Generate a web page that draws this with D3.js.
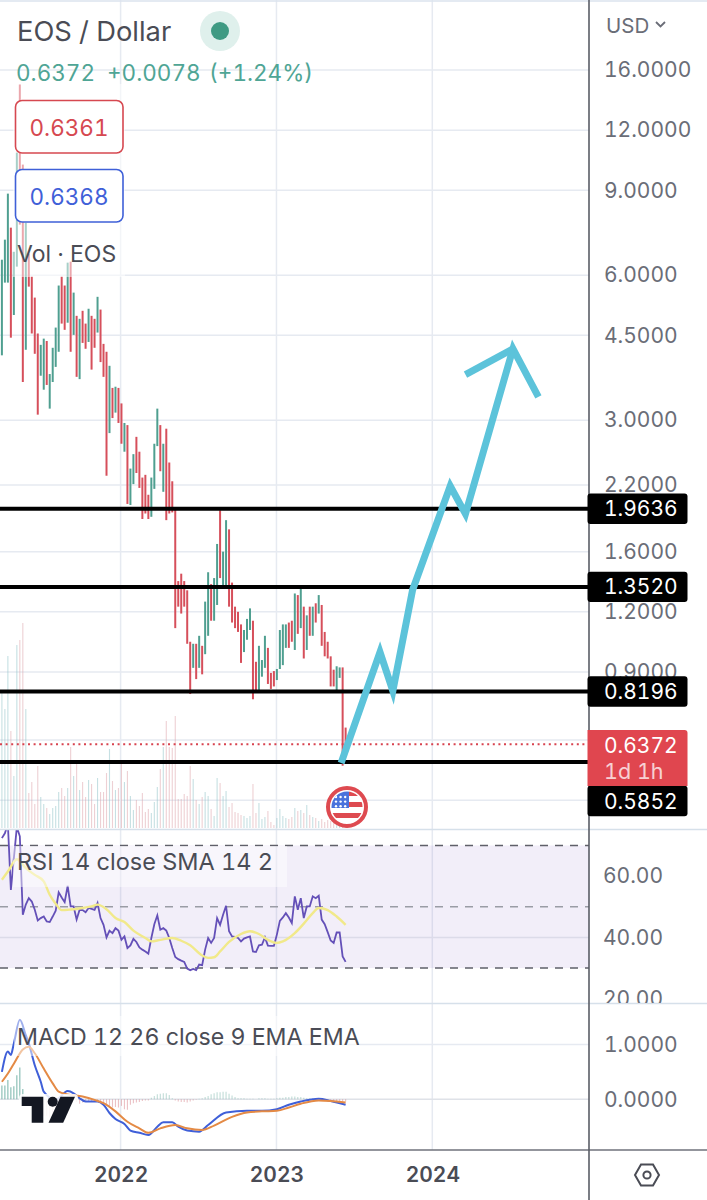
<!DOCTYPE html>
<html><head><meta charset="utf-8">
<script src="https://cdn.jsdelivr.net/npm/d3@7"></script>
<style>html,body{margin:0;padding:0;background:#fff}svg{display:block}text{font-family:Inter,"Noto Sans",sans-serif;font-variant-numeric:tabular-nums}</style>
</head><body><div id="chart"></div>
<script>
// ---- weekly EOS/USD candles ----
const candleHigh=[6.46,7.11,8.86,7.53,6.71,10.78,14.93,10.18,7.71,6.65,
5.96,5.39,4.54,4.30,4.43,4.38,3.74,4.24,4.67,5.71,
5.96,5.71,6.37,6.40,5.52,4.94,4.87,5.06,4.76,5.11,
4.94,4.87,5.41,5.09,4.32,4.16,3.89,3.50,3.52,3.50,
3.25,2.96,2.93,2.38,2.55,2.77,2.58,2.28,2.31,2.10,
2.28,2.68,3.17,2.93,2.68,2.88,2.45,2.24,1.97,1.39,
1.44,1.39,1.33,1.04,1.03,1.03,1.07,1.02,1.26,1.45,
1.37,1.41,1.66,1.95,1.60,1.86,1.78,1.38,1.23,1.20,
1.13,1.10,1.16,1.22,1.15,.945,1.02,.953,1.07,1.01,
.896,.904,.913,1.10,1.13,1.13,1.14,1.15,1.31,1.30,
1.34,1.23,1.18,1.23,1.23,1.25,1.30,1.24,1.09,1.04,
.97,.91,.925,.92,.92,.69];
const candleLow=[4.09,5.79,5.79,4.45,4.96,6.25,7.64,3.60,4.20,5.68,
4.54,4.12,3.08,3.71,3.47,3.55,3.17,3.60,3.87,4.16,
4.76,4.62,4.78,4.16,4.51,3.69,3.65,4.34,4.22,4.36,
3.82,4.24,4.56,3.96,3.69,2.30,2.82,3.03,3.11,2.96,
2.68,2.58,2.01,2.00,2.21,2.33,2.17,1.87,1.92,1.87,
1.89,2.16,2.65,2.35,2.13,1.86,1.92,1.93,1.11,1.23,
1.19,1.23,1.03,.81,.918,.87,.918,.89,.98,1.07,
1.15,1.15,1.24,1.41,1.35,1.35,1.23,1.14,1.11,1.09,
.94,.99,1.05,1.10,.79,.82,.826,.88,.918,.85,
.83,.84,.866,.913,.93,1.01,1.01,1.04,1.00,1.08,
1.11,.96,1.00,1.07,1.07,1.14,1.19,1.02,.97,.96,
.84,.84,.82,.875,.575,.60];
const candleDir=[1,1,1,-1,1,1,-1,-1,1,-1,
-1,-1,-1,1,1,-1,1,1,1,1,
-1,-1,1,-1,1,-1,1,-1,-1,1,
-1,-1,1,-1,-1,-1,1,-1,1,-1,
-1,1,-1,1,1,-1,-1,-1,-1,-1,
1,1,1,-1,1,-1,-1,-1,-1,-1,
-1,-1,-1,-1,1,-1,1,-1,1,1,
-1,1,1,-1,1,1,-1,-1,-1,-1,
-1,1,1,1,-1,-1,1,1,1,-1,
-1,-1,1,1,1,1,-1,-1,1,-1,
1,-1,1,-1,1,-1,1,-1,-1,-1,
-1,-1,1,1,-1,-1];
const volume=[135,119,172,97,52,183,188,205,119,35,
46,24,62,31,24,20,14,20,22,36,
40,32,40,81,52,64,38,46,31,48,
44,24,50,36,36,55,79,47,38,40,
64,46,57,32,18,28,22,35,16,19,
15,26,41,59,81,107,81,80,112,29,
29,34,32,62,49,28,24,31,36,32,
19,12,50,45,32,37,21,25,16,15,
13,12,10,12,44,15,25,9,11,17,
6,3,10,19,12,10,9,11,20,17,
18,15,23,13,11,10,7,9,6,8,
7,6,5,5,10,3];
const rsi=[72.4,74,77,55.5,65.9,76,73,47.4,50.7,52.8,
51.7,49,45.5,46.3,46.8,45.2,45,46.8,48.7,54.7,
53,51.5,56.8,50.1,50.1,45.8,49,48.9,48.2,49.6,
49.3,49,51.2,46.3,44.1,40,42.2,41.4,43,42.2,
39.2,40.3,36.5,37.4,39.5,38.5,36.7,36,35.4,34.7,
39.8,44.3,47.2,42.5,43,42.2,39.8,36.5,33.6,32.9,
32.4,32,29.8,29.3,29.7,29.3,31.1,30.9,36,39.8,
38.2,39.8,46.3,44.1,47.4,50.3,42,40.3,40.2,39.8,
38.7,39.6,40,40.3,35.4,35.2,37.4,37.6,40,37.3,
37.2,37.2,40.9,45.4,46.5,47.9,46.5,44.7,53.4,49,
52.8,46.3,50.1,50.1,53.4,52.8,53.6,45.8,44.3,41.7,
39,38.2,41.6,41.6,33.8,32];
const rsiMaWeek=[0,2,5,8,11,14,16,18,20,23,27,30,32,35,38,41,44,48,50,53,57,60,63,67,69,71,73,76,80,83,86,89,92,94,98,101,104,106,109,112,115];
const rsiMa=[58.8,61.5,65.5,62.6,60.4,58.3,53.9,51,48.9,49.1,49.6,50.1,50.7,49.2,46.3,45,42.2,39.8,38.7,39.2,39.8,38.9,37.4,34.1,33.3,33.5,35.4,38.5,41.1,42,41.1,39.2,38.2,38.7,41.4,44.5,47.9,49.6,48.9,46.8,44.1];
const macdWeek=[0,2,3,4,6,8,9,11,13,14,18,22,24,26,28,32,34,36,38,41,43,46,49,52,54,57,59,62,66,69,75,82,87,92,96,100,106,110,115];
const macdLine=[.50,.87,.81,1.02,1.45,1.17,1.02,.62,.32,.14,-.01,.15,.11,.02,-.04,-.04,-.10,-.25,-.36,-.45,-.57,-.61,-.65,-.50,-.42,-.42,-.50,-.57,-.59,-.47,-.24,-.21,-.21,-.18,-.10,-.04,.01,-.03,-.10];
const signalWeek=[0,2,4,7,9,11,14,17,19,22,27,31,34,38,42,46,49,53,58,62,67,71,77,82,87,92,96,100,106,110,115];
const signalLine=[.32,.47,.65,.91,.96,.84,.56,.29,.14,.09,.05,-.01,-.07,-.22,-.41,-.53,-.61,-.53,-.47,-.53,-.56,-.48,-.32,-.24,-.22,-.21,-.15,-.08,-.02,-.03,-.06];
const macdHist=[.25,.25,.35,.22,.24,.44,.58,.19,-.03,-.10,
-.15,-.18,-.22,-.26,-.3,-.3,-.33,-.3,-.25,-.15,
-.05,.02,.05,.03,.02,-.05,-.08,-.06,-.05,-.03,
-.03,-.03,-.03,-.05,-.07,-.1,-.13,-.15,-.14,-.15,
-.12,-.18,-.19,-.10,-.07,-.06,-.05,-.03,-.02,-.02,
.03,.06,.09,.10,.11,.11,.08,.02,-.02,-.04,
-.05,-.05,-.06,-.04,-.02,-.01,.01,.02,.04,.06,
.09,.11,.13,.13,.14,.14,.10,.07,.04,.02,
.02,.02,.01,.01,.01,0,.02,.02,.02,.01,
.01,.01,.02,.03,.03,.04,.04,.05,.05,.04,
.04,.03,.02,.02,.02,.02,.02,-.01,-.02,-.02,
-.03,-.03,-.03,-.03,-.04,-.04];
const priceTicks=[16,12,9,6,4.5,3,2.2,1.6,1.2,.9];
const priceGridOnly=[.65,.4875];
const levelValues=[1.9636,1.3520,.8196,.5852];
const lastPrice=0.6372;
const rsiTicks=[60,40,20];
const rsiBands=[70,50,30];
const macdTicks=[1,0];
const yearTicks=[2022,2023,2024];
// hand-drawn projection: week number on the candle count, price
const drawnWeek=[113.5,126.5,130.8,137.4,150,155.1,171,179.5];
const drawnPrice=[.5825,.99,.822,1.332,2.19,1.916,4.22,3.355];
const drawnHeadWeek=[155.1,171];
const drawnHeadPrice=[3.73,4.22];

const W=707,H=1200,AX=589,N=candleHigh.length;
const RED="#d64f5b",TEAL="#4f9f90",INK="#4a4c55",TICK="#6a6d77",GRID="#e6eaf1";
const weekDate=i=>new Date(Date.UTC(2023,5,12)+(i-(N-1))*7*864e5);
const x=d3.scaleUtc().domain([new Date(Date.UTC(2022,0,1)),new Date(Date.UTC(2024,0,1))]).range([120.6,432.3]);
const xw=i=>x(weekDate(i));
const y=d3.scaleLog().domain([16,.9]).range([70,672]);
const yVol=d3.scaleLinear().domain([0,205]).range([828,623]);
const yRsi=d3.scaleLinear().domain([70,30]).range([845.5,968]);
const yMacd=d3.scaleLinear().domain([1,0]).range([1044.5,1099.3]);

const svg=d3.select("#chart").append("svg").attr("width",W).attr("height",H).attr("viewBox",[0,0,W,H]);
const defs=svg.append("defs");
const clip=(id,a,b,c,d)=>defs.append("clipPath").attr("id",id).append("rect").attr("x",a).attr("y",b).attr("width",c).attr("height",d);
clip("cMain",0,0,AX,829);clip("cRsi",0,830,AX,173);clip("cMacd",0,1004,AX,146);clip("cRsiAx",AX,830,W-AX,173);

// frame grid
const hLine=(g,yy,col,w=1.5)=>g.append("line").attr("x1",0).attr("x2",AX).attr("y1",yy).attr("y2",yy).attr("stroke",col).attr("stroke-width",w);
const grid=svg.append("g");
grid.selectAll("line.v").data(yearTicks).join("line").attr("class","v")
 .attr("x1",d=>x(new Date(Date.UTC(d,0,1)))).attr("x2",d=>x(new Date(Date.UTC(d,0,1)))).attr("y1",0).attr("y2",1150)
 .attr("stroke",GRID).attr("stroke-width",1.5);
priceTicks.concat(priceGridOnly).forEach(p=>hLine(grid,y(p),GRID));

// volume
const main=svg.append("g").attr("clip-path","url(#cMain)");
main.append("g").selectAll("line").data(volume).join("line")
 .attr("x1",(d,i)=>xw(i)).attr("x2",(d,i)=>xw(i)).attr("y1",yVol(0)).attr("y2",d=>yVol(d))
 .attr("stroke",(d,i)=>candleDir[i]>0?"#8fc3c8":"#dfa3aa").attr("stroke-width",1.1).attr("opacity",.5);
// candles
main.append("g").selectAll("line").data(candleHigh).join("line")
 .attr("x1",(d,i)=>xw(i)).attr("x2",(d,i)=>xw(i)).attr("y1",d=>y(d)).attr("y2",(d,i)=>y(candleLow[i]))
 .attr("stroke",(d,i)=>candleDir[i]>0?TEAL:RED).attr("stroke-width",2);
// legend veil
svg.append("rect").attr("x",13).attr("y",84).attr("width",112).attr("height",193).attr("fill","#fff").attr("opacity",.5);

// levels and last price
main.append("g").selectAll("line").data(levelValues).join("line")
 .attr("x1",0).attr("x2",AX).attr("y1",d=>y(d)).attr("y2",d=>y(d)).attr("stroke","#000").attr("stroke-width",4);
main.append("line").attr("x1",0).attr("x2",AX).attr("y1",y(lastPrice)).attr("y2",y(lastPrice))
 .attr("stroke","#d8434f").attr("stroke-width",1.8).attr("stroke-dasharray","2 3.6");
// projection
const drawn=d3.line().x(d=>xw(d[0])).y(d=>y(d[1]));
main.append("path").attr("d",drawn(drawnWeek.map((w,i)=>[w,drawnPrice[i]])))
 .attr("fill","none").attr("stroke","#5cc3da").attr("stroke-width",7).attr("stroke-linejoin","miter");
main.append("path").attr("d",drawn(drawnHeadWeek.map((w,i)=>[w,drawnHeadPrice[i]])))
 .attr("fill","none").attr("stroke","#5cc3da").attr("stroke-width",7);

// flag
const flag=svg.append("g").attr("transform","translate(347,807)");
flag.append("circle").attr("r",19).attr("fill","#fff").attr("stroke","#de4a50").attr("stroke-width",4);
defs.append("clipPath").attr("id","cFlag").append("circle").attr("r",15.5);
const fl=flag.append("g").attr("clip-path","url(#cFlag)");
fl.append("rect").attr("x",-16).attr("y",-16).attr("width",32).attr("height",32).attr("fill","#fff");
fl.append("rect").attr("x",2).attr("y",-16).attr("width",16).attr("height",5).attr("fill","#de4a50");
fl.append("rect").attr("x",2).attr("y",-5).attr("width",16).attr("height",5).attr("fill","#de4a50");
fl.append("rect").attr("x",-16).attr("y",6).attr("width",32).attr("height",5).attr("fill","#de4a50");
fl.append("rect").attr("x",-16).attr("y",-16).attr("width",18).attr("height",17).attr("fill","#4a72dc");
for(let r=0;r<3;r++)for(let c=0;c<3;c++)fl.append("circle").attr("cx",-11+c*4.6).attr("cy",-10+r*4.6).attr("r",1.2).attr("fill","#fff");

// RSI pane
const rp=svg.append("g").attr("clip-path","url(#cRsi)");
rp.append("rect").attr("x",0).attr("width",AX).attr("y",yRsi(70)).attr("height",yRsi(30)-yRsi(70)).attr("fill","#7e57c2").attr("opacity",.1);
hLine(rp,yRsi(40),"#dcdbe9");
rp.selectAll("line.b").data(rsiBands).join("line").attr("class","b").attr("x1",0).attr("x2",AX)
 .attr("y1",d=>yRsi(d)).attr("y2",d=>yRsi(d)).attr("stroke",d=>d===50?"#9a9ca5":"#5f6069").attr("stroke-width",1.6).attr("stroke-dasharray","8 7");
rp.append("path").attr("d",d3.line().x((d,i)=>xw(i)).y(d=>yRsi(d))(rsi)).attr("fill","none").attr("stroke","#6450b8").attr("stroke-width",1.8);
rp.append("path").attr("d",d3.line().curve(d3.curveMonotoneX).x(d=>xw(d[0])).y(d=>yRsi(d[1]))(rsiMaWeek.map((w,i)=>[w,rsiMa[i]])))
 .attr("fill","none").attr("stroke","#f1e98a").attr("stroke-width",2.4);
svg.append("rect").attr("x",13).attr("y",846).attr("width",274).attr("height",41).attr("fill","#fff").attr("opacity",.45);

// MACD pane
const mp=svg.append("g").attr("clip-path","url(#cMacd)");
hLine(mp,yMacd(1),GRID);
hLine(mp,yMacd(0),"#dfe2e8");
mp.append("g").selectAll("line").data(macdHist).join("line")
 .attr("x1",(d,i)=>xw(i)).attr("x2",(d,i)=>xw(i)).attr("y1",yMacd(0)).attr("y2",d=>yMacd(d))
 .attr("stroke",d=>d>=0?"#4f9f90":"#c9515c").attr("stroke-width",1.1).attr("opacity",(d,i)=>i<8?.7:.35);
mp.append("path").attr("d",d3.line().curve(d3.curveMonotoneX).x(d=>xw(d[0])).y(d=>yMacd(d[1]))(macdWeek.map((w,i)=>[w,macdLine[i]])))
 .attr("fill","none").attr("stroke","#3f5fd8").attr("stroke-width",2);
mp.append("path").attr("d",d3.line().curve(d3.curveMonotoneX).x(d=>xw(d[0])).y(d=>yMacd(d[1]))(signalWeek.map((w,i)=>[w,signalLine[i]])))
 .attr("fill","none").attr("stroke","#e48a45").attr("stroke-width",2);
svg.append("rect").attr("x",14).attr("y",1016).attr("width",346).attr("height",40).attr("fill","#fff").attr("opacity",.5);

// TradingView mark
const logo=svg.append("g");
logo.append("rect").attr("x",19).attr("y",1094).attr("width",59).attr("height",31).attr("rx",4).attr("fill","#fff").attr("opacity",.85);
logo.append("path").attr("fill","#131722").attr("d","M21.7 1096.7H43.3V1122.7H31.7V1106H21.7Z");
logo.append("circle").attr("cx",52.7).attr("cy",1101.7).attr("r",5).attr("fill","#131722");
logo.append("path").attr("fill","#131722").attr("d","M60.5 1096.7H75L63.2 1122.7H48.5Z");

// frame lines
const frame=svg.append("g");
[[1,"#dbe3ee"],[829.5,"#d6e0ea"],[1003.5,"#d6e0ea"]].forEach(l=>frame.append("line").attr("x1",0).attr("x2",W).attr("y1",l[0]).attr("y2",l[0]).attr("stroke",l[1]).attr("stroke-width",1.5));
frame.append("line").attr("x1",0).attr("x2",W).attr("y1",1150).attr("y2",1150).attr("stroke","#6f727b").attr("stroke-width",1.5);
frame.append("line").attr("x1",AX).attr("x2",AX).attr("y1",0).attr("y2",H).attr("stroke","#5a5d66").attr("stroke-width",1.6);

// axes
const styleAxis=(g,size,col)=>{g.select(".domain").remove();g.selectAll(".tick line").remove();g.selectAll("text").attr("fill",col).attr("font-size",size).attr("font-family","Inter");};
const pAx=svg.append("g").attr("transform","translate(604,0)").call(d3.axisRight(y).tickValues(priceTicks).tickSize(0).tickPadding(0).tickFormat(d3.format(".4f")));
styleAxis(pAx,21,TICK);
const rAx=svg.append("g").attr("clip-path","url(#cRsiAx)").append("g").attr("transform","translate(603,0)").call(d3.axisRight(yRsi).tickValues(rsiTicks).tickSize(0).tickPadding(0).tickFormat(d3.format(".2f")));
styleAxis(rAx,21,TICK);
const mAx=svg.append("g").attr("transform","translate(604,0)").call(d3.axisRight(yMacd).tickValues(macdTicks).tickSize(0).tickPadding(0).tickFormat(d3.format(".4f")));
styleAxis(mAx,21,TICK);
const tAx=svg.append("g").attr("transform","translate(0,1167)").call(d3.axisBottom(x).tickValues(yearTicks.map(v=>new Date(Date.UTC(v,0,1)))).tickSize(0).tickPadding(0).tickFormat(d3.utcFormat("%Y")));
styleAxis(tAx,21,INK);tAx.selectAll("text").attr("font-weight",600);

const T=(s,xx,yy,size,col,extra={})=>{const t=svg.append("text").attr("x",xx).attr("y",yy).attr("font-size",size).attr("fill",col).text(s);Object.entries(extra).forEach(([k,v])=>t.attr(k,v));return t;};

// price labels
levelValues.forEach(v=>{
 const yy=v===.5852?801:y(v);
 svg.append("rect").attr("x",587.5).attr("y",yy-15.2).attr("width",100).attr("height",30.4).attr("rx",3).attr("fill","#000");
 T(d3.format(".4f")(v),604,yy+7.6,21,"#fff");
});
svg.append("path").attr("fill","#e0464f").attr("d","M587.5 730H684.5a3 3 0 0 1 3 3V786H587.5Z");
T(d3.format(".4f")(lastPrice),604,753,21,"#fff");
T("1d 1h",604,779,21.5,"#fff",{opacity:.75});

// header
T("USD",606,33,20.5,TICK);
svg.append("path").attr("d","M656 22l4.5 4.5L665 22").attr("fill","none").attr("stroke",TICK).attr("stroke-width",1.8);
T("EOS / Dollar",17,41,27.3,INK);
svg.append("circle").attr("cx",220).attr("cy",31).attr("r",20).attr("fill","#dff0ec");
svg.append("circle").attr("cx",220).attr("cy",31).attr("r",9).attr("fill","#3f9a83");
T("0.6372",16,80.5,22.5,"#4fa595");
T("+0.0078",107,80.5,22.5,"#4fa595");
T("(+1.24%)",209,80.5,22.5,"#4fa595");
[["0.6361",100.5,"#d64850"],["0.6368",169.5,"#3f60d8"]].forEach(b=>{
 svg.append("rect").attr("x",15.5).attr("y",b[1]).attr("width",107.5).attr("height",52.5).attr("rx",6.5).attr("fill","#fff").attr("stroke",b[2]).attr("stroke-width",1.6);
 T(b[0],69,b[1]+35,22.5,b[2],{"text-anchor":"middle"});
});
T("Vol · EOS",17,262,23,INK);
T("RSI 14 close SMA 14 2",17,870,23.5,INK);
T("MACD 12 26 close 9 EMA EMA",17,1045,23.2,INK);

// settings hexagon
svg.append("path").attr("d",d3.line().curve(d3.curveLinearClosed)(d3.range(6).map(i=>[647+12*Math.sin(i*Math.PI/3+Math.PI/2),1175+12*Math.cos(i*Math.PI/3+Math.PI/2)]))).attr("fill","none").attr("stroke",INK).attr("stroke-width",2);
svg.append("circle").attr("cx",647).attr("cy",1175).attr("r",3.6).attr("fill","none").attr("stroke",INK).attr("stroke-width",2);
</script></body></html>
